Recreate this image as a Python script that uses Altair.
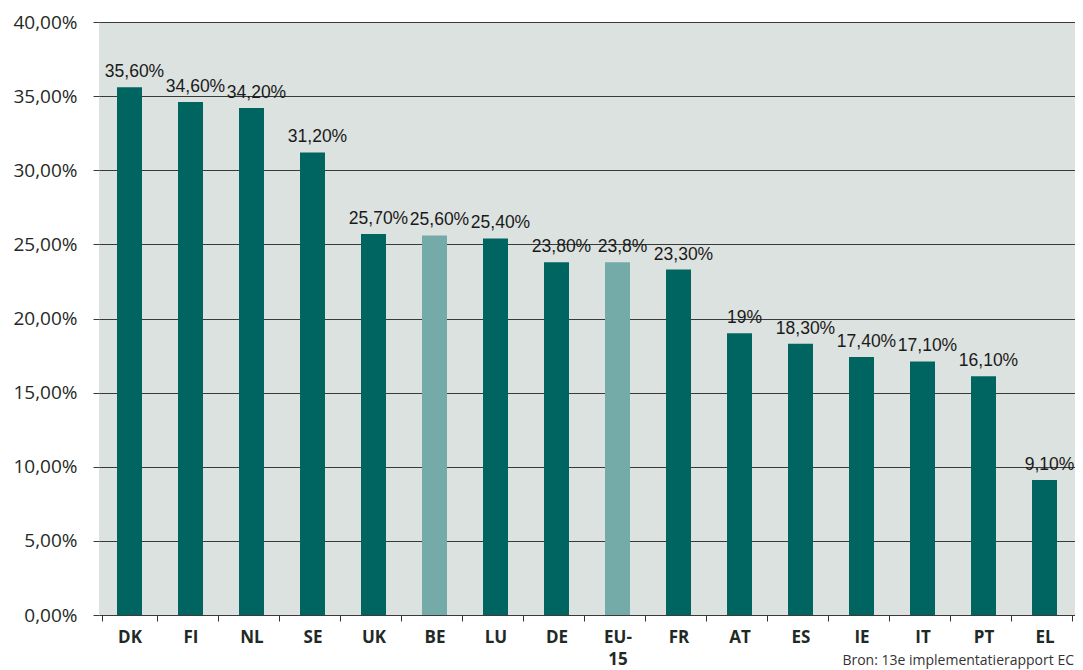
import altair as alt
import pandas as pd

countries = ["DK", "FI", "NL", "SE", "UK", "BE", "LU", "DE", "EU-15", "FR", "AT", "ES", "IE", "IT", "PT", "EL"]
values = [35.6, 34.6, 34.2, 31.2, 25.7, 25.6, 25.4, 23.8, 23.8, 23.3, 19.0, 18.3, 17.4, 17.1, 16.1, 9.1]
labels = ["35,60%", "34,60%", "34,20%", "31,20%", "25,70%", "25,60%", "25,40%", "23,80%", "23,8%", "23,30%",
          "19%", "18,30%", "17,40%", "17,10%", "16,10%", "9,10%"]
groups = ["land", "land", "land", "land", "land", "ref", "land", "land", "ref", "land",
          "land", "land", "land", "land", "land", "land"]
source_text = "Bron: 13e implementatierapport EC"

df = pd.DataFrame({"land": countries, "waarde": values, "label": labels, "groep": groups})

W, H = 976, 593

x = alt.X("land:N", sort=countries, title=None,
          axis=alt.Axis(labelAngle=0, labelFont="Open Sans", labelFontWeight="bold", labelFontSize=17,
                        labelColor="#1f2a26", tickBand="extent", tickColor="#333333", tickSize=6,
                        domain=False, labelPadding=8, labelLineHeight=22, labelBaseline="top",
                        labelExpr="datum.label == 'EU-15' ? ['EU-', '15'] : datum.label"))
y = alt.Y("waarde:Q", title=None, scale=alt.Scale(domain=[0, 40], nice=False),
          axis=alt.Axis(values=[0, 5, 10, 15, 20, 25, 30, 35, 40], grid=True, gridColor="#3a3a3a",
                        gridWidth=1, tickColor="#3a3a3a", tickSize=6, domain=False,
                        labelFont="Open Sans", labelFontSize=19, labelColor="#1f2a26", labelPadding=16,
                        labelExpr="replace(format(datum.value, '.2f'), '.', ',') + '%'"))

bars = alt.Chart(df).mark_bar(size=25).encode(
    x=x, y=y,
    color=alt.Color("groep:N", scale=alt.Scale(domain=["land", "ref"], range=["#006560", "#74aba9"]), legend=None),
)

text = alt.Chart(df).mark_text(font="Liberation Sans", fontSize=17.5, color="#1a1a1a",
                                baseline="alphabetic", dy=-10, dx=5).encode(
    x=alt.X("land:N", sort=countries), y="waarde:Q", text="label:N")

src = alt.Chart(pd.DataFrame({"t": [source_text]})).mark_text(
    font="Open Sans", fontSize=14, color="#333333", align="right", baseline="alphabetic").encode(
    x=alt.value(W - 1), y=alt.value(H + 50), text="t:N")

chart = alt.layer(bars, text, src).properties(
    width=W, height=H,
    autosize=alt.AutoSizeParams(type="none"),
    padding={"left": 91, "top": 14, "right": 0, "bottom": 55},
    background="white",
).configure_view(fill="#dce2df", stroke=None)

chart.save("out.html", embed_options={"renderer": "svg", "actions": False})
